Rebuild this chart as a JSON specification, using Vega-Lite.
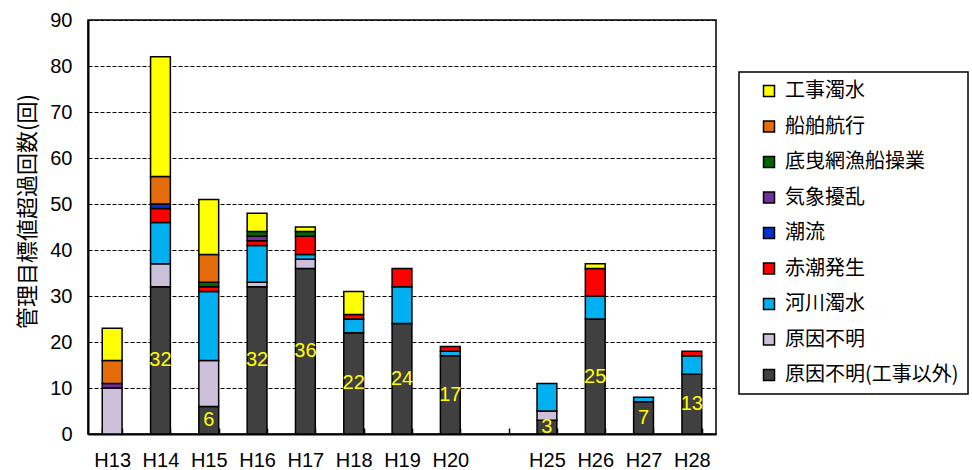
{
  "$schema": "https://vega.github.io/schema/vega-lite/v6.json",
  "autosize": "none",
  "width": 628,
  "height": 414,
  "padding": {"left": 88, "top": 20, "right": 256, "bottom": 36},
  "background": "white",
  "config": {
    "view": {"stroke": "black", "strokeWidth": 1.5},
    "axis": {"labelColor": "black", "domainColor": "black", "domainWidth": 2, "tickColor": "black", "titleColor": "black", "labelFont": "Liberation Sans", "labelFontSize": 20},
    "legend": {"strokeColor": "black", "strokeWidth": 1.5, "fillColor": "white", "symbolStrokeWidth": 1.5}
  },
  "data": {
    "values": [
      {"year": "H13", "cause": "原因不明", "k": 2, "n": 10},
      {"year": "H13", "cause": "気象擾乱", "k": 6, "n": 1},
      {"year": "H13", "cause": "船舶航行", "k": 8, "n": 5},
      {"year": "H13", "cause": "工事濁水", "k": 9, "n": 7},
      {"year": "H14", "cause": "原因不明(工事以外)", "k": 1, "n": 32},
      {"year": "H14", "cause": "原因不明", "k": 2, "n": 5},
      {"year": "H14", "cause": "河川濁水", "k": 3, "n": 9},
      {"year": "H14", "cause": "赤潮発生", "k": 4, "n": 3},
      {"year": "H14", "cause": "潮流", "k": 5, "n": 1},
      {"year": "H14", "cause": "船舶航行", "k": 8, "n": 6},
      {"year": "H14", "cause": "工事濁水", "k": 9, "n": 26},
      {"year": "H15", "cause": "原因不明(工事以外)", "k": 1, "n": 6},
      {"year": "H15", "cause": "原因不明", "k": 2, "n": 10},
      {"year": "H15", "cause": "河川濁水", "k": 3, "n": 15},
      {"year": "H15", "cause": "赤潮発生", "k": 4, "n": 1},
      {"year": "H15", "cause": "底曳網漁船操業", "k": 7, "n": 1},
      {"year": "H15", "cause": "船舶航行", "k": 8, "n": 6},
      {"year": "H15", "cause": "工事濁水", "k": 9, "n": 12},
      {"year": "H16", "cause": "原因不明(工事以外)", "k": 1, "n": 32},
      {"year": "H16", "cause": "原因不明", "k": 2, "n": 1},
      {"year": "H16", "cause": "河川濁水", "k": 3, "n": 8},
      {"year": "H16", "cause": "赤潮発生", "k": 4, "n": 1},
      {"year": "H16", "cause": "気象擾乱", "k": 6, "n": 1},
      {"year": "H16", "cause": "底曳網漁船操業", "k": 7, "n": 1},
      {"year": "H16", "cause": "工事濁水", "k": 9, "n": 4},
      {"year": "H17", "cause": "原因不明(工事以外)", "k": 1, "n": 36},
      {"year": "H17", "cause": "原因不明", "k": 2, "n": 2},
      {"year": "H17", "cause": "河川濁水", "k": 3, "n": 1},
      {"year": "H17", "cause": "赤潮発生", "k": 4, "n": 4},
      {"year": "H17", "cause": "底曳網漁船操業", "k": 7, "n": 1},
      {"year": "H17", "cause": "工事濁水", "k": 9, "n": 1},
      {"year": "H18", "cause": "原因不明(工事以外)", "k": 1, "n": 22},
      {"year": "H18", "cause": "河川濁水", "k": 3, "n": 3},
      {"year": "H18", "cause": "赤潮発生", "k": 4, "n": 1},
      {"year": "H18", "cause": "工事濁水", "k": 9, "n": 5},
      {"year": "H19", "cause": "原因不明(工事以外)", "k": 1, "n": 24},
      {"year": "H19", "cause": "河川濁水", "k": 3, "n": 8},
      {"year": "H19", "cause": "赤潮発生", "k": 4, "n": 4},
      {"year": "H20", "cause": "原因不明(工事以外)", "k": 1, "n": 17},
      {"year": "H20", "cause": "河川濁水", "k": 3, "n": 1},
      {"year": "H20", "cause": "赤潮発生", "k": 4, "n": 1},
      {"year": "H25", "cause": "原因不明(工事以外)", "k": 1, "n": 3},
      {"year": "H25", "cause": "原因不明", "k": 2, "n": 2},
      {"year": "H25", "cause": "河川濁水", "k": 3, "n": 6},
      {"year": "H26", "cause": "原因不明(工事以外)", "k": 1, "n": 25},
      {"year": "H26", "cause": "河川濁水", "k": 3, "n": 5},
      {"year": "H26", "cause": "赤潮発生", "k": 4, "n": 6},
      {"year": "H26", "cause": "工事濁水", "k": 9, "n": 1},
      {"year": "H27", "cause": "原因不明(工事以外)", "k": 1, "n": 7},
      {"year": "H27", "cause": "河川濁水", "k": 3, "n": 1},
      {"year": "H28", "cause": "原因不明(工事以外)", "k": 1, "n": 13},
      {"year": "H28", "cause": "河川濁水", "k": 3, "n": 4},
      {"year": "H28", "cause": "赤潮発生", "k": 4, "n": 1}
    ]
  },
  "layer": [
    {
      "mark": {"type": "bar", "stroke": "black", "strokeWidth": 1.5},
      "encoding": {
        "x": {
          "field": "year", "type": "nominal",
          "scale": {"domain": ["H13","H14","H15","H16","H17","H18","H19","H20","gap","H25","H26","H27","H28"], "paddingInner": 0.59, "paddingOuter": 0.295},
          "axis": {"title": null, "labelAngle": 0, "labelExpr": "datum.value == 'gap' ? '' : datum.value", "tickBand": "extent", "tickSize": -6, "tickWidth": 1.5, "labelPadding": 22, "grid": false}
        },
        "y": {
          "field": "n", "type": "quantitative", "stack": "zero",
          "scale": {"domain": [0, 90], "nice": false},
          "axis": {"title": "管理目標値超過回数(回)", "titleFont": "Noto Sans CJK JP", "titleFontSize": 22, "titleFontWeight": "normal", "titlePadding": 10, "titleY": 191, "values": [0,10,20,30,40,50,60,70,80,90], "ticks": false, "labelPadding": 16, "grid": true, "gridColor": "black", "gridDash": [4, 2], "gridWidth": 1, "gridOpacity": 1}
        },
        "color": {
          "field": "cause", "type": "nominal",
          "scale": {
            "domain": ["工事濁水","船舶航行","底曳網漁船操業","気象擾乱","潮流","赤潮発生","河川濁水","原因不明","原因不明(工事以外)"],
            "range": ["#FFFF00","#E46C0A","#006600","#7030A0","#0033CC","#FF0000","#00B0F0","#CCC0DA","#404040"]
          },
          "legend": {
            "title": null, "orient": "none", "legendX": 651, "legendY": 52,
            "padding": 9, "symbolOffset": 11, "labelOffset": 6,
            "symbolType": "square", "symbolSize": 121, "symbolStrokeColor": "black", "symbolOpacity": 1,
            "labelFont": "Noto Sans CJK JP", "labelFontSize": 20, "labelColor": "black", "labelLimit": 400,
            "rowPadding": 15.5
          }
        },
        "order": {"field": "k", "type": "quantitative", "sort": "ascending"}
      }
    },
    {
      "transform": [{"filter": "datum.cause == '原因不明(工事以外)'"}],
      "mark": {"type": "text", "color": "#FFFF00", "font": "Liberation Sans", "fontSize": 20, "baseline": "middle"},
      "encoding": {
        "x": {"field": "year", "type": "nominal"},
        "y": {"field": "n", "type": "quantitative", "scale": {"domain": [0, 180], "nice": false}, "axis": null},
        "text": {"field": "n", "type": "quantitative"}
      }
    }
  ],
  "resolve": {"scale": {"y": "independent"}}
}
